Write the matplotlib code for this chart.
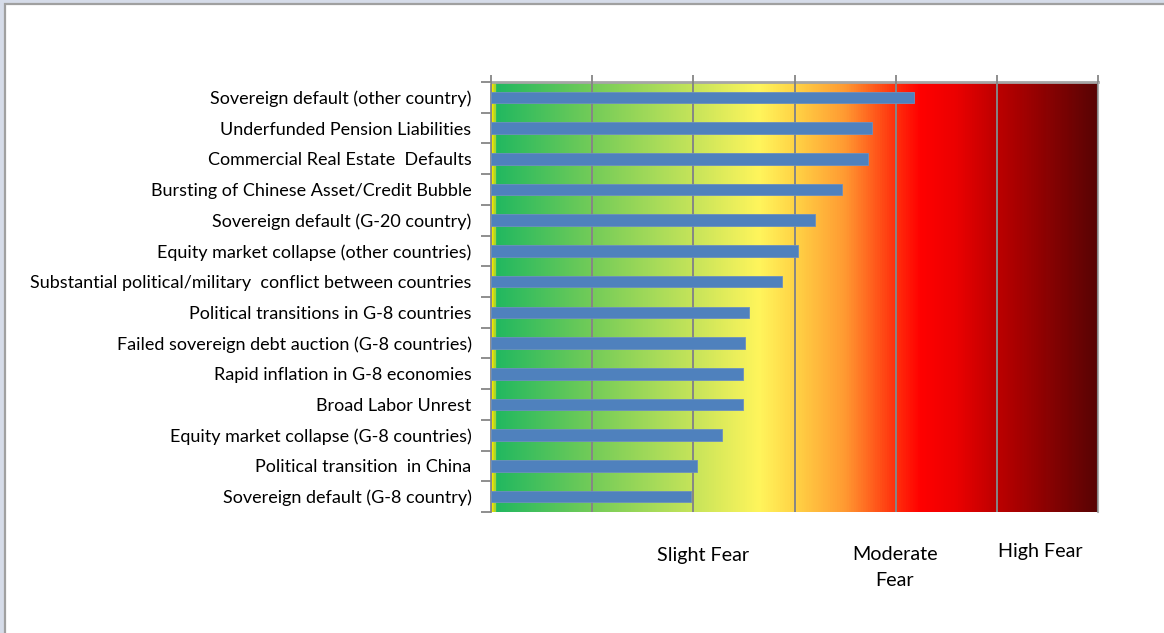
import matplotlib
matplotlib.use("Agg")
import matplotlib.pyplot as plt
import numpy as np
from matplotlib import patches
from matplotlib.colors import LinearSegmentedColormap

risks = [
    "Sovereign default (other country)",
    "Underfunded Pension Liabilities",
    "Commercial Real Estate  Defaults",
    "Bursting of Chinese Asset/Credit Bubble",
    "Sovereign default (G-20 country)",
    "Equity market collapse (other countries)",
    "Substantial political/military  conflict between countries",
    "Political transitions in G-8 countries",
    "Failed sovereign debt auction (G-8 countries)",
    "Rapid inflation in G-8 economies",
    "Broad Labor Unrest",
    "Equity market collapse (G-8 countries)",
    "Political transition  in China",
    "Sovereign default (G-8 country)",
]
fear_scores = [4.18, 3.77, 3.73, 3.47, 3.20, 3.03, 2.88,
               2.55, 2.51, 2.49, 2.49, 2.28, 2.04, 1.98]

fear_labels = ["Slight Fear", "Moderate\nFear", "High Fear"]
fear_label_x = [2.10, 3.99, 5.43]
fear_label_y = [-0.100, -0.130, -0.091]

x_max = 6

# background gradient, position on the 0..6 scale -> colour
gradient_stops = [
    (0.00, "#f2e600"),
    (0.02, "#c8dc20"),
    (0.045, "#22b860"),
    (1.00, "#74cc58"),
    (2.00, "#c6e45a"),
    (2.65, "#fff55c"),
    (3.00, "#ffd446"),
    (3.50, "#ff9a32"),
    (3.95, "#ff3a10"),
    (4.25, "#ff0000"),
    (4.60, "#ec0000"),
    (5.00, "#be0000"),
    (6.00, "#580404"),
]

plt.rcParams["font.family"] = ["Lato", "DejaVu Sans"]

fig = plt.figure(figsize=(11.64, 6.33), dpi=100, facecolor="#d6dce9")
fig.patches.append(patches.Rectangle((4.5 / 1164, -0.1), 1.2, 1 - 4.5 / 633 + 0.1,
                                     transform=fig.transFigure, facecolor="white",
                                     edgecolor="#a0a0a0", lw=1.6, zorder=-10))

ax = fig.add_axes([491 / 1164, 1 - 512 / 633, 607 / 1164, 430 / 633])
ax.set_facecolor("none")

cmap = LinearSegmentedColormap.from_list(
    "fear", [(p / x_max, c) for p, c in gradient_stops])
n = len(risks)
ax.imshow(np.linspace(0, 1, 1200)[None, :], cmap=cmap, aspect="auto",
          extent=[0, x_max, n - 0.5, -0.5], zorder=0)

y = np.arange(n)
ax.barh(y, fear_scores, height=0.38, color="#4f81bd", edgecolor="#6c8fbf",
        linewidth=0.6, zorder=3)

ax.set_xlim(0, x_max)
ax.set_ylim(n - 0.5, -0.5)
ax.set_xticks(range(x_max + 1))
ax.grid(axis="x", color="#868686", lw=1.4, zorder=2)
ax.set_axisbelow(False)
for line in ax.get_xgridlines():
    line.set_zorder(2)

ax.xaxis.tick_top()
ax.tick_params(axis="x", top=True, bottom=False, labeltop=False, labelbottom=False,
               length=5, width=1.3, color="#868686", direction="out")

ax.set_yticks(y)
ax.set_yticklabels(risks, fontsize=13)
ax.set_yticks(np.arange(-0.5, n), minor=True)
ax.tick_params(axis="y", which="major", length=0, pad=14)
ax.tick_params(axis="y", which="minor", length=7, width=1.3, color="#868686",
               direction="out")

ax.spines["bottom"].set_visible(False)
ax.spines["top"].set_color("#a6a6a6")
ax.spines["top"].set_linewidth(2)
ax.spines["left"].set_color("#868686")
ax.spines["left"].set_linewidth(1.3)
ax.spines["right"].set_color("#b0b0b0")
ax.spines["right"].set_linewidth(1.5)

for label, lx, ly in zip(fear_labels, fear_label_x, fear_label_y):
    ax.text(lx, ly, label, transform=ax.get_xaxis_transform(), ha="center",
            va="center", fontsize=14.2, linespacing=1.65, clip_on=False)

fig.savefig("out.png", dpi=100, facecolor=fig.get_facecolor())
